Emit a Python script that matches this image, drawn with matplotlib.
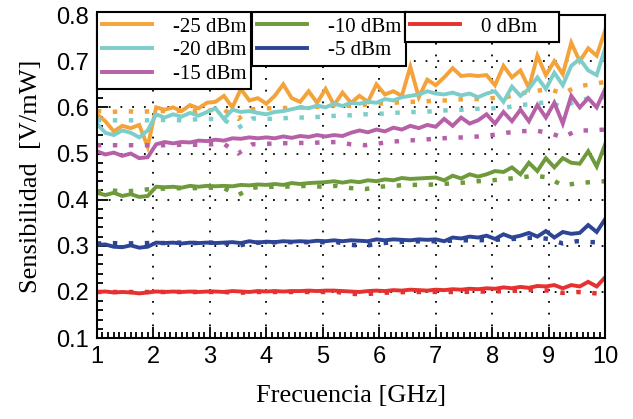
import numpy as np
import matplotlib.pyplot as plt
from matplotlib.ticker import MultipleLocator

# Frecuencias (GHz)
frec = np.round(np.arange(1.0, 10.001, 0.15), 2)      # curvas medidas
frec_ref = np.round(np.arange(1.0, 10.001, 0.25), 2)  # curvas punteadas

etiquetas = ['-25 dBm', '-20 dBm', '-15 dBm', '-10 dBm', '-5 dBm', '0 dBm']
colores = ['#F4A23A', '#7DCDCB', '#B660A8', '#6E9A3C', '#2E4595', '#E5312F']

# Sensibilidad medida [V/mW]
s_m25 = [0.585, 0.570, 0.548, 0.560, 0.555, 0.562, 0.515, 0.600, 0.595, 0.600,
         0.592, 0.605, 0.598, 0.610, 0.612, 0.625, 0.600, 0.640, 0.615, 0.620,
         0.608, 0.625, 0.650, 0.620, 0.612, 0.635, 0.610, 0.640, 0.605, 0.632,
         0.610, 0.625, 0.612, 0.650, 0.628, 0.635, 0.625, 0.688, 0.622, 0.660,
         0.648, 0.665, 0.685, 0.668, 0.670, 0.668, 0.670, 0.648, 0.690, 0.665,
         0.680, 0.642, 0.712, 0.670, 0.700, 0.672, 0.740, 0.700, 0.728, 0.712,
         0.767]
s_m20 = [0.565, 0.545, 0.540, 0.550, 0.545, 0.535, 0.550, 0.585, 0.578, 0.585,
         0.580, 0.588, 0.582, 0.590, 0.598, 0.575, 0.595, 0.590, 0.592, 0.588,
         0.585, 0.590, 0.592, 0.596, 0.600, 0.598, 0.604, 0.600, 0.608, 0.603,
         0.610, 0.608, 0.612, 0.610, 0.618, 0.615, 0.622, 0.625, 0.628, 0.635,
         0.630, 0.628, 0.632, 0.626, 0.630, 0.622, 0.630, 0.635, 0.612, 0.645,
         0.625, 0.640, 0.665, 0.640, 0.675, 0.648, 0.690, 0.705, 0.680, 0.670,
         0.728]
s_m15 = [0.505, 0.498, 0.502, 0.495, 0.500, 0.490, 0.492, 0.520, 0.525, 0.522,
         0.525, 0.524, 0.528, 0.527, 0.530, 0.528, 0.533, 0.532, 0.535, 0.533,
         0.535, 0.533, 0.537, 0.534, 0.538, 0.536, 0.540, 0.537, 0.540, 0.538,
         0.545, 0.550, 0.546, 0.552, 0.548, 0.556, 0.552, 0.560, 0.555, 0.562,
         0.558, 0.575, 0.560, 0.578, 0.565, 0.572, 0.585, 0.565, 0.590, 0.570,
         0.595, 0.570, 0.605, 0.578, 0.610, 0.565, 0.625, 0.600, 0.620, 0.600,
         0.640]
s_m10 = [0.415, 0.410, 0.415, 0.408, 0.412, 0.406, 0.408, 0.428, 0.427, 0.428,
         0.426, 0.430, 0.428, 0.430, 0.429, 0.430, 0.429, 0.432, 0.431, 0.433,
         0.432, 0.434, 0.432, 0.436, 0.434, 0.436, 0.437, 0.438, 0.440, 0.437,
         0.440, 0.438, 0.442, 0.440, 0.444, 0.442, 0.447, 0.445, 0.446, 0.447,
         0.448, 0.442, 0.452, 0.446, 0.455, 0.450, 0.455, 0.462, 0.460, 0.470,
         0.455, 0.480, 0.462, 0.490, 0.470, 0.490, 0.480, 0.478, 0.505, 0.472,
         0.520]
s_m5 = [0.302, 0.303, 0.298, 0.297, 0.301, 0.296, 0.298, 0.307, 0.306, 0.307,
        0.305, 0.307, 0.306, 0.307, 0.306, 0.307, 0.308, 0.306, 0.310, 0.307,
        0.309, 0.308, 0.310, 0.309, 0.310, 0.309, 0.311, 0.310, 0.312, 0.310,
        0.312, 0.311, 0.310, 0.314, 0.312, 0.314, 0.313, 0.312, 0.314, 0.313,
        0.314, 0.310, 0.318, 0.316, 0.320, 0.318, 0.322, 0.315, 0.325, 0.318,
        0.322, 0.328, 0.320, 0.332, 0.318, 0.330, 0.326, 0.328, 0.345, 0.330,
        0.358]
s_0 = [0.200, 0.201, 0.199, 0.200, 0.199, 0.197, 0.199, 0.201, 0.200, 0.201,
       0.200, 0.201, 0.200, 0.201, 0.201, 0.200, 0.202, 0.201, 0.200, 0.202,
       0.201, 0.202, 0.201, 0.202, 0.202, 0.203, 0.202, 0.203, 0.203, 0.202,
       0.201, 0.200, 0.202, 0.203, 0.202, 0.204, 0.203, 0.205, 0.204, 0.203,
       0.205, 0.204, 0.206, 0.205, 0.207, 0.206, 0.208, 0.207, 0.210, 0.208,
       0.211, 0.209, 0.213, 0.212, 0.215, 0.208, 0.215, 0.212, 0.222, 0.212,
       0.232]

# Curvas punteadas
r_m25 = [0.592, 0.590, 0.592, 0.590, 0.592, 0.592, 0.593, 0.592, 0.594, 0.595,
         0.575, 0.596, 0.598, 0.598, 0.600, 0.600, 0.602, 0.605, 0.603, 0.606,
         0.608, 0.610, 0.612, 0.612, 0.615, 0.615, 0.618, 0.618, 0.620, 0.622,
         0.630, 0.635, 0.640, 0.630, 0.645, 0.650, 0.655]
r_m20 = [0.572, 0.572, 0.572, 0.572, 0.572, 0.573, 0.572, 0.574, 0.575, 0.573,
         0.555, 0.576, 0.575, 0.576, 0.578, 0.578, 0.580, 0.582, 0.583, 0.585,
         0.586, 0.588, 0.590, 0.590, 0.592, 0.594, 0.595, 0.597, 0.598, 0.600,
         0.605, 0.608, 0.612, 0.600, 0.615, 0.620, 0.622]
r_m15 = [0.518, 0.518, 0.518, 0.518, 0.518, 0.518, 0.519, 0.519, 0.520, 0.521,
         0.500, 0.520, 0.521, 0.522, 0.523, 0.523, 0.524, 0.525, 0.520, 0.518,
         0.522, 0.526, 0.528, 0.530, 0.532, 0.534, 0.535, 0.537, 0.540, 0.545,
         0.548, 0.550, 0.545, 0.535, 0.550, 0.550, 0.552]
r_m10 = [0.418, 0.420, 0.418, 0.420, 0.424, 0.424, 0.425, 0.425, 0.426, 0.425,
         0.410, 0.426, 0.428, 0.428, 0.429, 0.430, 0.428, 0.430, 0.425, 0.423,
         0.428, 0.430, 0.432, 0.432, 0.433, 0.435, 0.437, 0.440, 0.442, 0.445,
         0.448, 0.452, 0.448, 0.430, 0.436, 0.438, 0.440]
r_m5 = [0.305, 0.306, 0.305, 0.306, 0.306, 0.306, 0.307, 0.306, 0.307, 0.306,
        0.300, 0.307, 0.307, 0.308, 0.308, 0.308, 0.308, 0.308, 0.302, 0.300,
        0.305, 0.308, 0.309, 0.310, 0.310, 0.311, 0.312, 0.312, 0.313, 0.314,
        0.316, 0.318, 0.315, 0.305, 0.310, 0.308, 0.308]
r_0 = [0.200, 0.200, 0.200, 0.200, 0.200, 0.200, 0.200, 0.200, 0.200, 0.200,
       0.198, 0.200, 0.200, 0.200, 0.200, 0.200, 0.200, 0.200, 0.196, 0.195,
       0.198, 0.199, 0.200, 0.200, 0.200, 0.200, 0.200, 0.201, 0.201, 0.202,
       0.203, 0.205, 0.203, 0.198, 0.200, 0.198, 0.195]

medidas = [s_m25, s_m20, s_m15, s_m10, s_m5, s_0]
referencias = [r_m25, r_m20, r_m15, r_m10, r_m5, r_0]

fig = plt.figure(figsize=(6.33, 4.19), dpi=100)
ax = fig.add_axes([0.153, 0.193, 0.803, 0.771])

lineas = []
for s, r, c, et in zip(medidas, referencias, colores, etiquetas):
    ln, = ax.plot(frec, s, color=c, lw=2.8, label=et, solid_joinstyle='miter')
    ax.plot(frec_ref, r, color=c, lw=3.2, linestyle=(0, (1, 2.6)))
    lineas.append(ln)

ax.set_xlim(1, 10)
ax.set_ylim(0.1, 0.8)
ax.xaxis.set_major_locator(MultipleLocator(1))
ax.xaxis.set_minor_locator(MultipleLocator(0.1))
ax.yaxis.set_major_locator(MultipleLocator(0.1))
ax.yaxis.set_minor_locator(MultipleLocator(0.02))
ax.tick_params(which='both', direction='in', top=False, right=False,
               width=1.3, labelsize=17)
ax.tick_params(which='major', length=8, pad=6)
ax.tick_params(which='minor', length=4)
for lbl in ax.get_xticklabels() + ax.get_yticklabels():
    lbl.set_family('Liberation Sans')
for sp in ax.spines.values():
    sp.set_linewidth(1.5)

ax.grid(True, which='major', color='black', lw=1.3, linestyle=(0, (1, 5.5)))

ax.set_xlabel('Frecuencia [GHz]', family='Liberation Serif', fontsize=19, labelpad=12)
ax.set_ylabel('Sensibilidad  [V/mW]', family='Liberation Serif', fontsize=19, labelpad=10)

# Tres cajas de leyenda
grupos = [(lineas[0:3], 0.0), (lineas[3:5], 0.305), (lineas[5:6], 0.606)]
for hs, x0 in grupos:
    leg = ax.legend(handles=hs, loc='upper left', bbox_to_anchor=(x0, 1.01, 0.304, 0),
                    mode='expand', borderaxespad=0, fancybox=False, framealpha=1,
                    edgecolor='black', prop={'family': 'Liberation Serif', 'size': 15},
                    handlelength=2.4, labelspacing=0.2, borderpad=0.25,
                    handletextpad=1.0)
    leg.get_frame().set_linewidth(1.5)
    ax.add_artist(leg)

plt.savefig('out.png', dpi=100)
